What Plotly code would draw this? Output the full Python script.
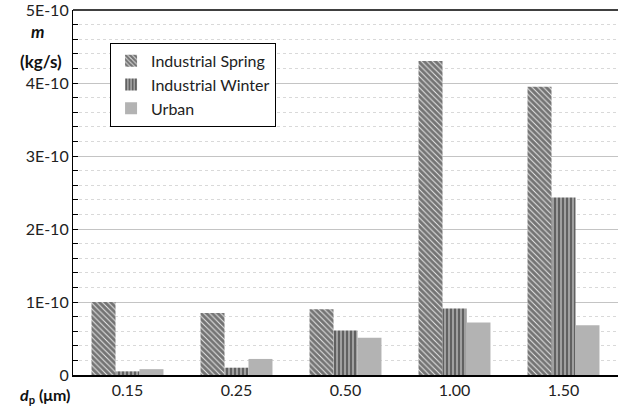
import plotly.graph_objects as go

categories = ["0.15", "0.25", "0.50", "1.00", "1.50"]
industrial_spring = [1.00e-10, 0.85e-10, 0.90e-10, 4.30e-10, 3.95e-10]
industrial_winter = [0.05e-10, 0.10e-10, 0.61e-10, 0.91e-10, 2.43e-10]
urban = [0.08e-10, 0.22e-10, 0.51e-10, 0.72e-10, 0.68e-10]
y_tickvals = [0, 1e-10, 2e-10, 3e-10, 4e-10, 5e-10]
y_ticktext = ["0", "1E-10", "2E-10", "3E-10", "4E-10", "5E-10"]

FONT = "Lato, 'Open Sans', sans-serif"

fig = go.Figure()
fig.add_trace(go.Bar(
    x=categories, y=industrial_spring, name="Industrial Spring",
    marker=dict(color="white", line=dict(width=0),
                pattern=dict(shape="\\", fgcolor="#000000", bgcolor="#e8e8e8",
                             size=4, solidity=0.75)),
))
fig.add_trace(go.Bar(
    x=categories, y=industrial_winter, name="Industrial Winter",
    marker=dict(color="#9a9a9a", line=dict(width=0),
                pattern=dict(shape="|", fgcolor="#222222", bgcolor="#a0a0a0",
                             size=4, solidity=0.5)),
))
fig.add_trace(go.Bar(
    x=categories, y=urban, name="Urban",
    marker=dict(color="#b3b3b3", line=dict(width=0)),
))

fig.update_layout(
    width=618, height=411,
    margin=dict(l=73, r=0, t=10, b=36, autoexpand=False),
    paper_bgcolor="white", plot_bgcolor="white",
    barmode="group", bargap=0.34, bargroupgap=0,
    font=dict(family=FONT, size=16, color="#222"),
    legend=dict(x=0.068, y=0.91, xanchor="left", yanchor="top",
                bgcolor="white", bordercolor="black", borderwidth=1,
                font=dict(size=16, family=FONT, color="#222"),
                tracegroupgap=0, itemwidth=30),
    showlegend=True,
)
fig.update_xaxes(
    type="category", showline=True, linecolor="black", linewidth=1.5,
    mirror=False, ticks="", showgrid=False, automargin=False,
    tickfont=dict(size=16, family=FONT),
)
fig.update_yaxes(
    range=[0, 5e-10], tickvals=y_tickvals, ticktext=y_ticktext,
    showline=True, linecolor="black", linewidth=1.2, automargin=False,
    ticklabeloverflow="allow",
    ticks="inside", ticklen=5, tickcolor="black",
    showgrid=True, gridcolor="#c4c4c4", gridwidth=1,
    zeroline=False,
    minor=dict(dtick=0.2e-10, ticks="inside", ticklen=5, tickcolor="black",
               showgrid=True, gridcolor="#d9d9d9", griddash="dot", gridwidth=1),
    tickfont=dict(size=16, family=FONT),
)
# top border
fig.add_shape(type="line", xref="paper", yref="paper", x0=0, x1=1, y0=1, y1=1,
              line=dict(color="black", width=1.5))

fig.add_annotation(text="<b><i>m</i></b>", xref="paper", yref="paper",
                   x=-0.066, y=0.94, xanchor="center", yanchor="middle",
                   showarrow=False, font=dict(size=17, family=FONT, color="#111"))
fig.add_annotation(text="<b>(kg/s)</b>", xref="paper", yref="paper",
                   x=-0.059, y=0.858, xanchor="center", yanchor="middle",
                   showarrow=False, font=dict(size=17, family=FONT, color="#111"))
fig.add_annotation(text="<b><i>d</i><sub>p</sub> (μm)</b>", xref="paper", yref="paper",
                   x=-0.051, y=-0.055, xanchor="center", yanchor="middle",
                   showarrow=False, font=dict(size=16, family=FONT, color="#111"))

fig.write_html("out.html", config={"displayModeBar": False},
               post_script="document.body.style.margin='0';document.body.style.padding='0';")
